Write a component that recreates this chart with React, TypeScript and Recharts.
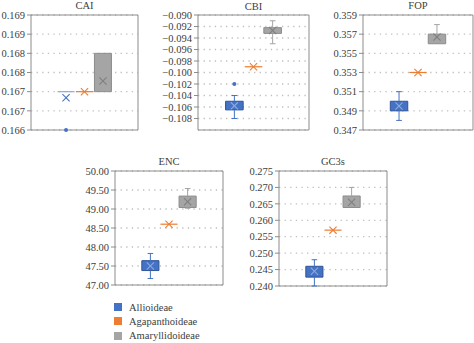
import React from 'react';
import {
  ComposedChart,
  XAxis,
  YAxis,
  CartesianGrid,
  ReferenceArea,
  ReferenceLine,
  Scatter,
} from 'recharts';

// ---------- data ----------
const categories = ['Allioideae', 'Agapanthoideae', 'Amaryllidoideae'];
const seriesColors = ['#4472C4', '#ED7D31', '#A5A5A5'];
const boxStrokes = ['#2F5597', '#ED7D31', '#8C8C8C'];
const meanInBoxColors = ['#8FAADC', '#ED7D31', '#7F7F7F'];

// CAI
const caiMin = [0.167, 0.167, 0.167];
const caiQ1 = [0.167, 0.167, 0.167];
const caiQ3 = [0.167, 0.167, 0.168];
const caiMax = [0.167, 0.167, 0.168];
const caiMean = [0.16684, 0.167, 0.16728];
const caiOutliers = [[0.166], [], []];
const caiTicks = [0.166, 0.1665, 0.167, 0.1675, 0.168, 0.1685, 0.169];
const caiTickLabels = ['0.166', '0.167', '0.167', '0.168', '0.168', '0.169', '0.169'];
const caiDomain = [0.166, 0.169];

// CBI
const cbiMin = [-0.108, -0.099, -0.095];
const cbiQ1 = [-0.1065, -0.099, -0.0932];
const cbiQ3 = [-0.105, -0.099, -0.0922];
const cbiMax = [-0.104, -0.099, -0.091];
const cbiMean = [-0.1058, -0.099, -0.0927];
const cbiOutliers = [[-0.102], [], []];
const cbiTicks = [-0.108, -0.106, -0.104, -0.102, -0.1, -0.098, -0.096, -0.094, -0.092, -0.09];
const cbiTickLabels = ['\u22120.108', '\u22120.106', '\u22120.104', '\u22120.102', '\u22120.100', '\u22120.098', '\u22120.096', '\u22120.094', '\u22120.092', '\u22120.090'];
const cbiDomain = [-0.11, -0.09];

// FOP
const fopMin = [0.348, 0.353, 0.356];
const fopQ1 = [0.349, 0.353, 0.356];
const fopQ3 = [0.35, 0.353, 0.357];
const fopMax = [0.351, 0.353, 0.358];
const fopMean = [0.3495, 0.353, 0.3567];
const fopOutliers = [[], [], []];
const fopTicks = [0.347, 0.349, 0.351, 0.353, 0.355, 0.357, 0.359];
const fopTickLabels = ['0.347', '0.349', '0.351', '0.353', '0.355', '0.357', '0.359'];
const fopDomain = [0.347, 0.359];

// ENC
const encMin = [47.17, 48.6, 49.02];
const encQ1 = [47.38, 48.6, 49.04];
const encQ3 = [47.64, 48.6, 49.34];
const encMax = [47.83, 48.6, 49.54];
const encMean = [47.5, 48.6, 49.19];
const encOutliers = [[], [], []];
const encTicks = [47.0, 47.5, 48.0, 48.5, 49.0, 49.5, 50.0];
const encTickLabels = ['47.00', '47.50', '48.00', '48.50', '49.00', '49.50', '50.00'];
const encDomain = [47.0, 50.0];

// GC3s
const gcMin = [0.24, 0.257, 0.2639];
const gcQ1 = [0.2427, 0.257, 0.2639];
const gcQ3 = [0.246, 0.257, 0.2674];
const gcMax = [0.248, 0.257, 0.27];
const gcMean = [0.2445, 0.257, 0.2655];
const gcOutliers = [[], [], []];
const gcTicks = [0.24, 0.245, 0.25, 0.255, 0.26, 0.265, 0.27, 0.275];
const gcTickLabels = ['0.240', '0.245', '0.250', '0.255', '0.260', '0.265', '0.270', '0.275'];
const gcDomain = [0.24, 0.275];

// ---------- layout ----------
const POS = [-1, 0, 1];
const X_DOMAIN: [number, number] = [-2.9, 2.9];
const HALF = 0.46;
const CAP = 0.15;
const FONT = "'Liberation Serif', 'Times New Roman', Times, serif";
const TEXT = '#404040';

type Frame = { left: number; top: number; right: number; bottom: number; yw: number; titleTop: number };

const XMark = (props: any) => {
  const { cx, cy, payload } = props;
  if (cx == null || cy == null) return null;
  const s = 3.6;
  return (
    <g>
      <line x1={cx - s} y1={cy - s} x2={cx + s} y2={cy + s} stroke={payload.color} strokeWidth={1.1} />
      <line x1={cx - s} y1={cy + s} x2={cx + s} y2={cy - s} stroke={payload.color} strokeWidth={1.1} />
    </g>
  );
};

const Dot = (props: any) => {
  const { cx, cy, payload } = props;
  if (cx == null || cy == null) return null;
  return <circle cx={cx} cy={cy} r={2} fill={payload.color} />;
};

function Panel(p: {
  title: string;
  min: number[];
  q1: number[];
  q3: number[];
  max: number[];
  mean: number[];
  outliers: number[][];
  ticks: number[];
  tickLabels: string[];
  domain: number[];
  frame: Frame;
}) {
  const { frame } = p;
  const plotW = frame.right - frame.left;
  const plotH = frame.bottom - frame.top;
  const m = { top: 5, right: 5, bottom: 5, left: 0 };
  const width = frame.yw + plotW + m.right;
  const height = plotH + m.top + m.bottom;

  const meanData = p.mean.map((v, i) => {
    const inBox = p.q3[i] > p.q1[i] && v >= p.q1[i] && v <= p.q3[i];
    return { x: POS[i], y: v, color: inBox ? meanInBoxColors[i] : seriesColors[i] };
  });
  const outData = p.outliers.flatMap((arr, i) => arr.map((v) => ({ x: POS[i], y: v, color: seriesColors[i] })));

  const els: React.ReactNode[] = [];
  categories.forEach((c, i) => {
    const x = POS[i];
    const col = seriesColors[i];
    if (p.max[i] > p.q3[i]) {
      els.push(
        <ReferenceLine key={`wu${i}`} segment={[{ x, y: p.q3[i] }, { x, y: p.max[i] }]} stroke={col} strokeWidth={1} />,
        <ReferenceLine key={`cu${i}`} segment={[{ x: x - CAP, y: p.max[i] }, { x: x + CAP, y: p.max[i] }]} stroke={col} strokeWidth={1} />
      );
    }
    if (p.min[i] < p.q1[i]) {
      els.push(
        <ReferenceLine key={`wl${i}`} segment={[{ x, y: p.min[i] }, { x, y: p.q1[i] }]} stroke={col} strokeWidth={1} />,
        <ReferenceLine key={`cl${i}`} segment={[{ x: x - CAP, y: p.min[i] }, { x: x + CAP, y: p.min[i] }]} stroke={col} strokeWidth={1} />
      );
    }
    if (p.q3[i] > p.q1[i]) {
      els.push(
        <ReferenceArea
          key={`b${i}`}
          x1={x - HALF}
          x2={x + HALF}
          y1={p.q1[i]}
          y2={p.q3[i]}
          fill={col}
          fillOpacity={1}
          stroke={boxStrokes[i]}
          strokeWidth={1}
        />
      );
    } else {
      els.push(
        <ReferenceLine
          key={`f${i}`}
          segment={[{ x: x - HALF, y: p.q1[i] }, { x: x + HALF, y: p.q1[i] }]}
          stroke={i === 0 ? '#8FAADC' : col}
          strokeWidth={1.2}
        />
      );
    }
  });

  return (
    <>
      <div
        style={{
          position: 'absolute',
          left: frame.left,
          width: plotW,
          top: frame.titleTop,
          textAlign: 'center',
          fontFamily: FONT,
          fontSize: 10.5,
          lineHeight: '11px',
          color: TEXT,
        }}
      >
        {p.title}
      </div>
      <div style={{ position: 'absolute', left: frame.left - frame.yw, top: frame.top - m.top }}>
        <ComposedChart width={width} height={height} margin={m} style={{ fontFamily: FONT }}>
          <CartesianGrid vertical={false} stroke="#BFBFBF" strokeDasharray="1.3 4.3" strokeWidth={1.3} />
          <XAxis type="number" dataKey="x" domain={X_DOMAIN} hide />
          <YAxis
            type="number"
            dataKey="y"
            domain={p.domain as [number, number]}
            ticks={p.ticks}
            interval={0}
            width={frame.yw}
            axisLine={false}
            tickLine={{ stroke: '#8C8C8C' }}
            tickSize={4}
            tickMargin={2}
            tick={{ fontFamily: FONT, fontSize: 10.5, fill: TEXT }}
            tickFormatter={(v: number) => {
              const k = p.ticks.findIndex((t) => Math.abs(t - v) < 1e-9);
              return k >= 0 ? p.tickLabels[k] : '';
            }}
          />
          <ReferenceArea
            x1={X_DOMAIN[0]}
            x2={X_DOMAIN[1]}
            y1={p.domain[0]}
            y2={p.domain[1]}
            fill="none"
            fillOpacity={0}
            stroke="#8C8C8C"
            strokeWidth={1}
          />
          {els}
          <Scatter data={meanData} shape={XMark} isAnimationActive={false} />
          <Scatter data={outData} shape={Dot} isAnimationActive={false} />
        </ComposedChart>
      </div>
    </>
  );
}

export default function App() {
  return (
    <div
      style={{
        position: 'absolute',
        left: 0,
        top: 0,
        width: 474,
        height: 343,
        overflow: 'hidden',
        background: '#fff',
        fontFamily: FONT,
      }}
    >
      <Panel
        title="CAI"
        min={caiMin}
        q1={caiQ1}
        q3={caiQ3}
        max={caiMax}
        mean={caiMean}
        outliers={caiOutliers}
        ticks={caiTicks}
        tickLabels={caiTickLabels}
        domain={caiDomain}
        frame={{ left: 31, top: 15, right: 138, bottom: 130, yw: 31, titleTop: 0 }}
      />
      <Panel
        title="CBI"
        min={cbiMin}
        q1={cbiQ1}
        q3={cbiQ3}
        max={cbiMax}
        mean={cbiMean}
        outliers={cbiOutliers}
        ticks={cbiTicks}
        tickLabels={cbiTickLabels}
        domain={cbiDomain}
        frame={{ left: 198, top: 15, right: 309, bottom: 130, yw: 45, titleTop: 1 }}
      />
      <Panel
        title="FOP"
        min={fopMin}
        q1={fopQ1}
        q3={fopQ3}
        max={fopMax}
        mean={fopMean}
        outliers={fopOutliers}
        ticks={fopTicks}
        tickLabels={fopTickLabels}
        domain={fopDomain}
        frame={{ left: 363, top: 15, right: 473, bottom: 130, yw: 45, titleTop: 0 }}
      />
      <Panel
        title="ENC"
        min={encMin}
        q1={encQ1}
        q3={encQ3}
        max={encMax}
        mean={encMean}
        outliers={encOutliers}
        ticks={encTicks}
        tickLabels={encTickLabels}
        domain={encDomain}
        frame={{ left: 115, top: 171, right: 223, bottom: 285, yw: 45, titleTop: 156 }}
      />
      <Panel
        title="GC3s"
        min={gcMin}
        q1={gcQ1}
        q3={gcQ3}
        max={gcMax}
        mean={gcMean}
        outliers={gcOutliers}
        ticks={gcTicks}
        tickLabels={gcTickLabels}
        domain={gcDomain}
        frame={{ left: 279, top: 171, right: 387, bottom: 286, yw: 45, titleTop: 156 }}
      />
      {categories.map((c, i) => (
        <div
          key={c}
          style={{
            position: 'absolute',
            left: 114,
            top: 301 + i * 14.3,
            height: 12,
            display: 'flex',
            alignItems: 'center',
            fontFamily: FONT,
            fontSize: 10.5,
            color: TEXT,
          }}
        >
          <span style={{ display: 'inline-block', width: 8, height: 8, background: seriesColors[i], marginRight: 7 }} />
          <span>{c}</span>
        </div>
      ))}
    </div>
  );
}
